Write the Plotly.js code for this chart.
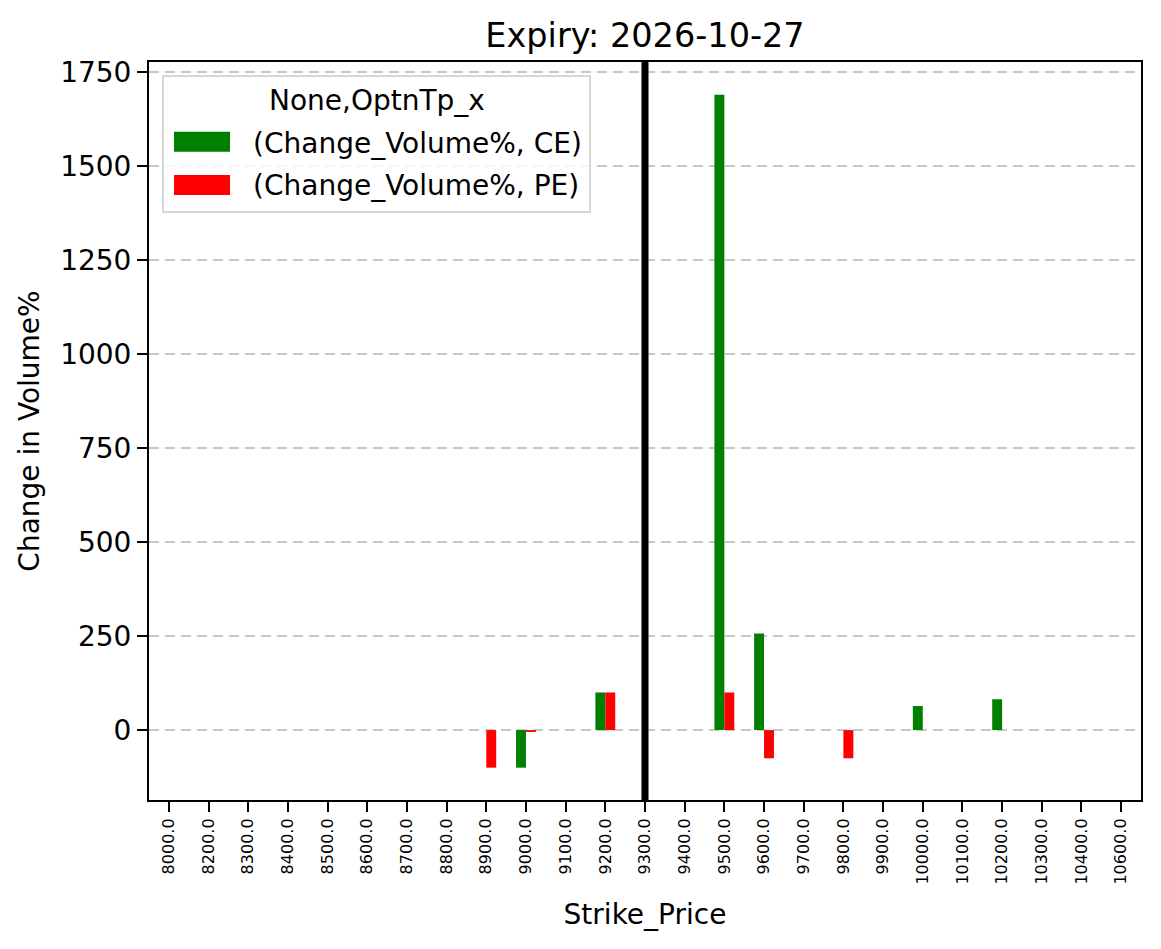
<!DOCTYPE html>
<html>
<head>
<meta charset="utf-8">
<script src="https://cdn.plot.ly/plotly-3.0.1.min.js"></script>
<style>
  html, body { margin: 0; padding: 0; background: #fff; }
  #graph { width: 1161px; height: 949px; }
</style>
</head>
<body>
<div id="graph"></div>
<script>
// strike prices (categories on the x axis)
var strikes = ["8000.0", "8200.0", "8300.0", "8400.0", "8500.0", "8600.0", "8700.0",
  "8800.0", "8900.0", "9000.0", "9100.0", "9200.0", "9300.0", "9400.0", "9500.0",
  "9600.0", "9700.0", "9800.0", "9900.0", "10000.0", "10100.0", "10200.0",
  "10300.0", "10400.0", "10600.0"];

// change in volume %, calls and puts (null = no bar)
var ceChange = [null, null, null, null, null, null, null, null, null, -100, null, 100,
  null, null, 1690, 257, null, null, null, 64, null, 82, null, null, null];
var peChange = [null, null, null, null, null, null, null, null, -100, -5, null, 100,
  null, null, 100, -75, null, -75, null, null, null, null, null, null, null];

var spotStrike = "9300.0";
var yTicks = [0, 250, 500, 750, 1000, 1250, 1500, 1750];
var legendTitle = "None,OptnTp_x";
var ceName = "(Change_Volume%, CE)";
var peName = "(Change_Volume%, PE)";

var FONT = "DejaVu Sans, sans-serif";
var FS = 28;

function plotExpiry() {
  var ce = {
    x: strikes,
    y: ceChange,
    type: "bar",
    name: ceName,
    marker: { color: "green", line: { width: 0 } },
    showlegend: false
  };
  var pe = {
    x: strikes,
    y: peChange,
    type: "bar",
    name: peName,
    marker: { color: "red", line: { width: 0 } },
    showlegend: false
  };
  var data = [ce, pe];

  var spotIdx = strikes.indexOf(spotStrike);

  // hand made legend, drawn the way matplotlib boxes it
  var shapes = [
    { type: "line", xref: "x", yref: "paper", x0: spotIdx, x1: spotIdx, y0: 0, y1: 1,
      line: { color: "black", width: 7 } },
    { type: "rect", xref: "paper", yref: "paper", x0: 0.0141, x1: 0.4446, y0: 0.7967, y1: 0.981,
      fillcolor: "rgba(255,255,255,0.8)", line: { color: "#d6d6d6", width: 2 } },
    { type: "rect", xref: "paper", yref: "paper", x0: 0.0252, x1: 0.0817, y0: 0.8785, y1: 0.9056,
      fillcolor: "green", line: { width: 0 } },
    { type: "rect", xref: "paper", yref: "paper", x0: 0.0252, x1: 0.0817, y0: 0.8198, y1: 0.8469,
      fillcolor: "red", line: { width: 0 } }
  ];
  var annotations = [
    { xref: "paper", yref: "paper", x: 0.2295, y: 0.9485, text: legendTitle, showarrow: false,
      xanchor: "center", yanchor: "middle", font: { family: FONT, size: FS, color: "black" } },
    { xref: "paper", yref: "paper", x: 0.1025, y: 0.8898, text: ceName, showarrow: false,
      xanchor: "left", yanchor: "middle", font: { family: FONT, size: FS, color: "black" } },
    { xref: "paper", yref: "paper", x: 0.1025, y: 0.8333, text: peName, showarrow: false,
      xanchor: "left", yanchor: "middle", font: { family: FONT, size: FS, color: "black" } }
  ];

  var layout = {
    width: 1161,
    height: 949,
    margin: { l: 149, r: 20, t: 62, b: 149 },
    paper_bgcolor: "white",
    plot_bgcolor: "white",
    font: { family: FONT, size: FS, color: "black" },
    title: {
      text: "Expiry: 2026-10-27",
      font: { family: FONT, size: 33.5, color: "black" },
      xref: "paper",
      x: 0.5,
      xanchor: "center",
      yref: "container",
      y: 1 - 35 / 949,
      yanchor: "middle"
    },
    barmode: "group",
    bargap: 0.5,
    bargroupgap: 0,
    showlegend: false,
    xaxis: {
      type: "category",
      range: [-0.5, 24.5],
      tickangle: -90,
      tickfont: { family: FONT, size: 16, color: "black" },
      ticks: "outside",
      ticklen: 10,
      tickwidth: 2,
      tickcolor: "black",
      showgrid: false,
      showline: true,
      linecolor: "black",
      linewidth: 2,
      mirror: true,
      automargin: false,
      title: {
        text: "Strike_Price",
        font: { family: FONT, size: FS, color: "black" },
        standoff: 21
      }
    },
    yaxis: {
      range: [-186, 1777],
      tickvals: yTicks,
      tickfont: { family: FONT, size: FS, color: "black" },
      ticks: "outside",
      ticklen: 10,
      tickwidth: 2,
      tickcolor: "black",
      showgrid: true,
      gridcolor: "#c8c8c8",
      gridwidth: 2,
      griddash: "10px,6px",
      zeroline: false,
      showline: true,
      linecolor: "black",
      linewidth: 2,
      mirror: true,
      automargin: false,
      title: {
        text: "Change in Volume%",
        font: { family: FONT, size: FS, color: "black" },
        standoff: 12
      }
    },
    shapes: shapes,
    annotations: annotations
  };
  Plotly.newPlot("graph", data, layout, { displayModeBar: false, staticPlot: true });
}
plotExpiry();
</script>
</body>
</html>
